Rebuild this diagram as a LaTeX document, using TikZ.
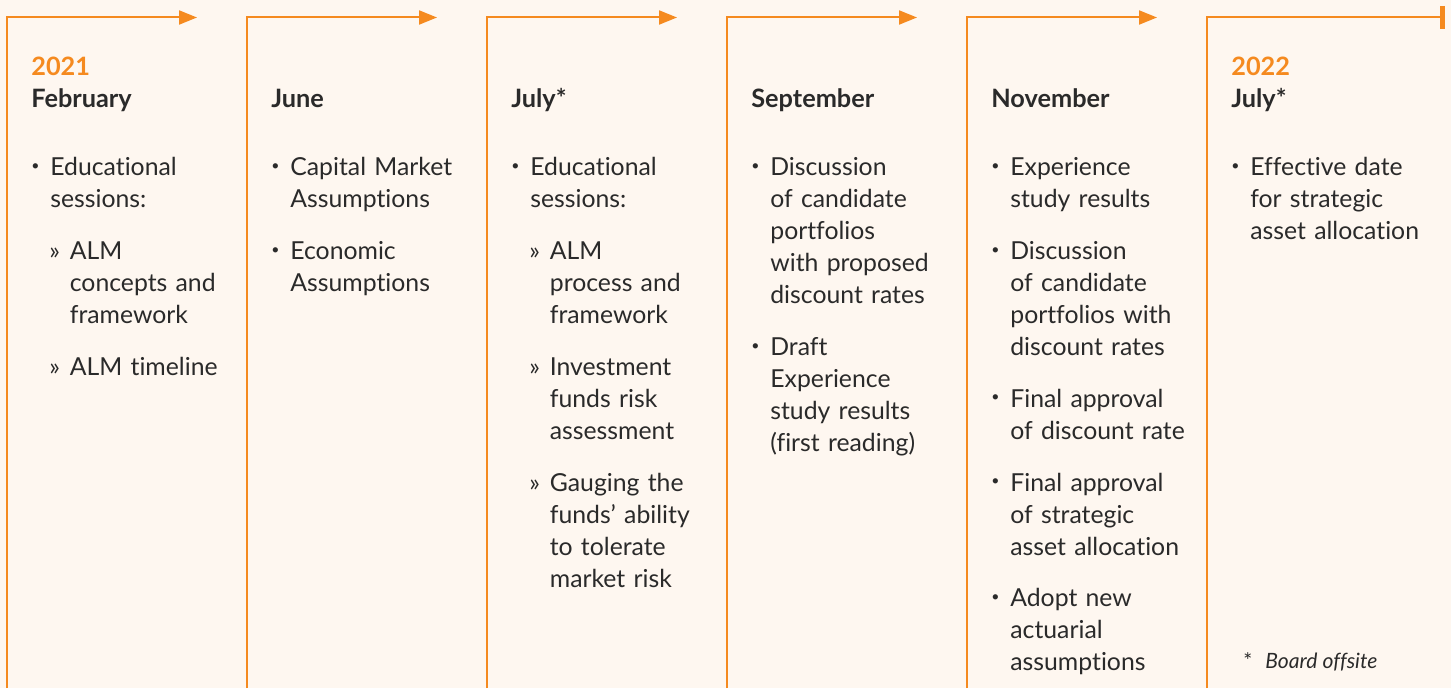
\documentclass[tikz,border=0pt]{standalone}
\usepackage{fontspec}
\setmainfont[Ligatures=NoCommon]{Lato}
\usetikzlibrary{arrows.meta}

\definecolor{tlorange}{HTML}{F58A1F}
\definecolor{tlcream}{HTML}{FEF7F0}
\definecolor{tltext}{HTML}{2A2A2A}

% bullet and sub-bullet lines
\setlength{\lineskip}{0pt}
\setlength{\lineskiplimit}{0pt}
\newcommand{\tldot}{\raisebox{0.22em}{\fontsize{8}{8}\selectfont\textbullet}}
\newcommand{\tlitem}[1]{\noindent\makebox[0.38cm][l]{\tldot}\begin{tabular}[t]{@{}l@{}}#1\end{tabular}}
\newcommand{\tlsub}[1]{\noindent\hspace*{0.36cm}\makebox[0.41cm][l]{»}\begin{tabular}[t]{@{}l@{}}#1\end{tabular}}
\newcommand{\tlgap}{\par\vspace{0.36cm}}

\begin{document}
\begin{tikzpicture}[>=Stealth,
  tlline/.style={tlorange, line width=0.04cm},
  tlyear/.style={anchor=base west, inner sep=0, text=tlorange, font=\fontsize{14.4}{18.2}\selectfont\bfseries},
  tlmonth/.style={anchor=base west, inner sep=0, text=tltext, font=\fontsize{14.4}{18.2}\selectfont\bfseries},
  tlbody/.style={anchor=base west, inner sep=0, text width=4.5cm, text=tltext,
    font=\fontsize{14.1}{18.2}\selectfont},
  tlnote/.style={anchor=base west, inner sep=0, text=tltext, font=\fontsize{12}{14}\selectfont}]

  % background
  \fill[tlcream] (0,0) rectangle (29.02,13.76);
  \useasboundingbox (0,0) rectangle (29.02,13.76);

  % timeline segments
  \foreach \k in {0,...,4} {
    \draw[tlline, -{Triangle[length=0.36cm,width=0.28cm]}]
      ({0.14+4.8*\k},0) -- ({0.14+4.8*\k},13.41) -- ({3.94+4.8*\k},13.41);
  }
  \draw[tlline, -{Bar[width=0.46cm,line width=0.1cm]}]
    (24.14,0) -- (24.14,13.41) -- (28.9,13.41);

  % headings
  \node[tlyear] (yr2021) at (0.62,12.24) {2021};
  \node[tlmonth] (feb) at (0.62,11.6) {February};
  \node[tlmonth] (jun) at (5.42,11.6) {June};
  \node[tlmonth] (jul) at (10.22,11.6) {July*};
  \node[tlmonth] (sep) at (15.02,11.6) {September};
  \node[tlmonth] (nov) at (19.82,11.6) {November};
  \node[tlyear] (yr2022) at (24.62,12.24) {2022};
  \node[tlmonth] (jul22) at (24.62,11.6) {July*};

  % items
  \node[tlbody] (febitems) at (0.62,10.24) {%
    \tlitem{Educational\\sessions:}\tlgap
    \tlsub{ALM\\concepts and\\framework}\tlgap
    \tlsub{ALM timeline}};
  \node[tlbody] (junitems) at (5.42,10.24) {%
    \tlitem{Capital Market\\Assumptions}\tlgap
    \tlitem{Economic\\Assumptions}};
  \node[tlbody] (julitems) at (10.22,10.24) {%
    \tlitem{Educational\\sessions:}\tlgap
    \tlsub{ALM\\process and\\framework}\tlgap
    \tlsub{Investment\\funds risk\\assessment}\tlgap
    \tlsub{Gauging the\\funds’ ability\\to tolerate\\market risk}};
  \node[tlbody] (sepitems) at (15.02,10.24) {%
    \tlitem{Discussion\\of candidate\\portfolios\\with proposed\\discount rates}\tlgap
    \tlitem{Draft\\Experience\\study results\\(first reading)}};
  \node[tlbody] (novitems) at (19.82,10.24) {%
    \tlitem{Experience\\study results}\tlgap
    \tlitem{Discussion\\of candidate\\portfolios with\\discount rates}\tlgap
    \tlitem{Final approval\\of discount rate}\tlgap
    \tlitem{Final approval\\of strategic\\asset allocation}\tlgap
    \tlitem{Adopt new\\actuarial\\assumptions}};
  \node[tlbody] (jul22items) at (24.62,10.24) {%
    \tlitem{Effective date\\for strategic\\asset allocation}};

  % footnote
  \node[tlnote] (offsite) at (24.86,0.4) {\makebox[0.44cm][l]{*}\textit{Board offsite}};

\end{tikzpicture}
\end{document}
